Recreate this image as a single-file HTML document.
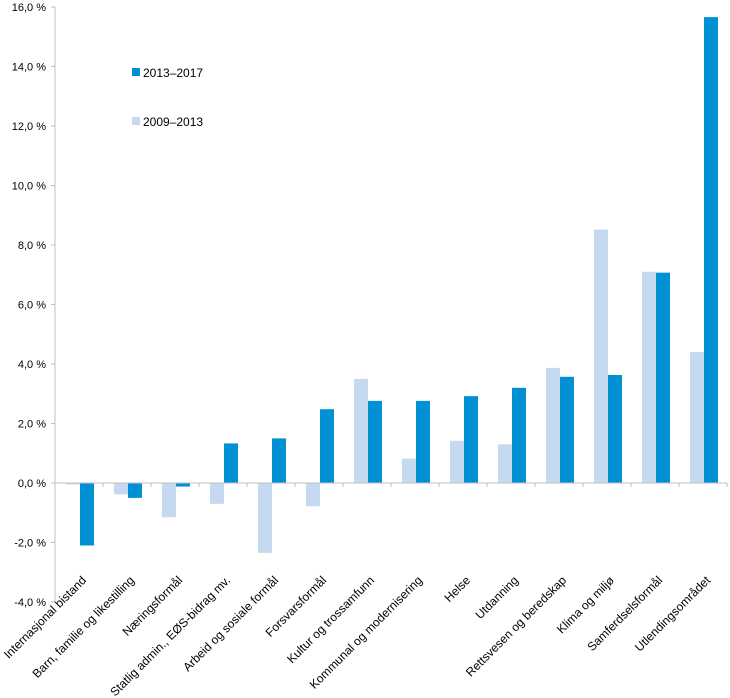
<!DOCTYPE html>
<html><head><meta charset="utf-8"><style>body{margin:0;background:#fff}svg{display:block}</style></head>
<body>
<svg width="730" height="698" xmlns="http://www.w3.org/2000/svg" font-family="Liberation Sans, sans-serif" font-size="11" fill="#000">
<g id="y"></g>
<g id="bars"></g>
<g id="lab" font-size="12"></g>
<line x1="55" y1="7" x2="55" y2="602" stroke="#bfbfbf"/>
<line x1="55" y1="483" x2="727" y2="483" stroke="#bfbfbf"/>
<rect x="132" y="68" width="8" height="8" fill="#0090d4"/>
<text x="143" y="77" font-size="12">2013–2017</text>
<rect x="132" y="117" width="8" height="8" fill="#c6d9f1"/>
<text x="143" y="126" font-size="12">2009–2013</text>
<script>
const ns="http://www.w3.org/2000/svg";
const Y=v=>483-v*29.75;
const data=[["Internasjonal bistand",-0.05,-2.1],["Barn, familie og likestilling",-0.38,-0.5],["Næringsformål",-1.15,-0.12],["Statlig admin., EØS-bidrag mv.",-0.7,1.33],["Arbeid og sosiale formål",-2.35,1.5],["Forsvarsformål",-0.78,2.48],["Kultur og trossamfunn",3.5,2.76],["Kommunal og modernisering",0.82,2.76],["Helse",1.42,2.92],["Utdanning",1.3,3.2],["Rettsvesen og beredskap",3.87,3.57],["Klima og miljø",8.52,3.63],["Samferdselsformål",7.1,7.07],["Utlendingsområdet",4.4,15.66]];
function el(t,a,p,txt){const e=document.createElementNS(ns,t);for(const k in a)e.setAttribute(k,a[k]);if(txt)e.textContent=txt;p.appendChild(e);return e;}
const gy=document.getElementById('y'),gb=document.getElementById('bars'),gl=document.getElementById('lab');
for(let v=-4;v<=16;v+=2){const y=Y(v);el('line',{x1:51,x2:55,y1:y,y2:y,stroke:'#bfbfbf'},gy);
el('text',{x:46,y:y+4,'text-anchor':'end'},gy,v.toFixed(1).replace('.',',')+' %');}
data.forEach((d,i)=>{const x=55+48*i;
el('line',{x1:x+48,x2:x+48,y1:483,y2:487,stroke:'#bfbfbf'},gy);
[[d[1],11,'#c6d9f1'],[d[2],25,'#0090d4']].forEach(([v,o,c])=>{el('rect',{x:x+o,y:Math.min(Y(v),483),width:14,height:Math.max(Math.abs(Y(v)-483),1),fill:c},gb);});
const cx=x+32,cy=581;el('text',{x:cx,y:cy,'text-anchor':'end',transform:`rotate(-45 ${cx} ${cy})`},gl,d[0]);});
</script>
</svg>
</body></html>
